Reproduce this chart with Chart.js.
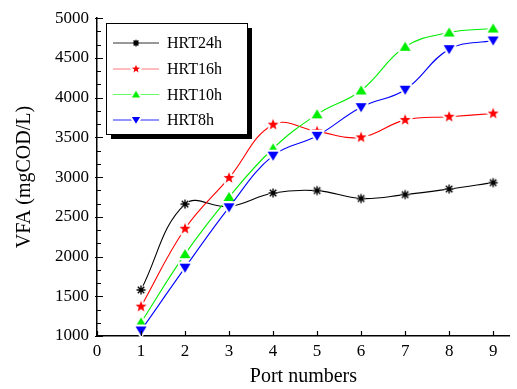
<!DOCTYPE html>
<html>
<head>
<meta charset="utf-8">
<script src="https://cdn.jsdelivr.net/npm/chart.js@4"></script>
<style>
  html, body { margin: 0; padding: 0; background: #fff; }
  canvas { display: block; }
</style>
</head>
<body>
<canvas id="vfaChart" width="517" height="389"></canvas>
<script>
// port numbers along the reactor
const ports = [1, 2, 3, 4, 5, 6, 7, 8, 9];
const seriesNames = ["HRT24h", "HRT16h", "HRT10h", "HRT8h"];
// VFA (mgCOD/L)
const hrt24 = [1580, 2660, 2630, 2800, 2830, 2730, 2780, 2850, 2930];
const hrt16 = [1370, 2350, 2990, 3660, 3575, 3500, 3720, 3760, 3800];
const hrt10 = [1170, 2030, 2750, 3360, 3790, 4090, 4640, 4820, 4870];
const hrt8 = [1070, 1860, 2620, 3270, 3520, 3880, 4100, 4610, 4720];
const yTicks = [1000, 1500, 2000, 2500, 3000, 3500, 4000, 4500, 5000];
const xTicks = [0, 1, 2, 3, 4, 5, 6, 7, 8, 9];

const FONT = "Liberation Serif";

// marker images with a white halo so lines stop short of the symbol
function marker(kind, color, k) {
  const s = 18;
  const c = document.createElement("canvas");
  c.width = s; c.height = s;
  const g = c.getContext("2d");
  g.translate(s / 2, s / 2);
  g.scale(k, k);
  const path = () => {
    g.beginPath();
    if (kind === "asterisk") {
      const r = 4.5, d = r * 0.72;
      g.moveTo(-r, 0); g.lineTo(r, 0);
      g.moveTo(0, -r); g.lineTo(0, r);
      g.moveTo(-d, -d); g.lineTo(d, d);
      g.moveTo(-d, d); g.lineTo(d, -d);
    } else if (kind === "star") {
      for (let i = 0; i < 10; i++) {
        const r = i % 2 ? 2.4 : 5.8;
        const a = -Math.PI / 2 + i * Math.PI / 5;
        g.lineTo(r * Math.cos(a), r * Math.sin(a));
      }
      g.closePath();
    } else if (kind === "up") {
      g.moveTo(0, -5); g.lineTo(5.5, 4); g.lineTo(-5.5, 4); g.closePath();
    } else {
      g.moveTo(0, 5); g.lineTo(5.5, -4); g.lineTo(-5.5, -4); g.closePath();
    }
  };
  g.lineJoin = "round";
  path();
  g.strokeStyle = "#fff"; g.lineWidth = 4 / k; g.stroke();
  if (kind === "asterisk") {
    path();
    g.strokeStyle = color; g.lineWidth = 1.4 / k; g.stroke();
  } else {
    path();
    g.fillStyle = "#fff"; g.fill();
    path();
    g.fillStyle = color; g.fill();
  }
  return c;
}

const colors = ["#000000", "#ff0000", "#00ee00", "#0000ff"];
const legendLine = ["#333333", "#ff7a7a", "#66ff66", "#2a2aff"];
const kinds = ["asterisk", "star", "up", "down"];
const markers = kinds.map((k, i) => marker(k, colors[i], 1));
const smallMarkers = kinds.map((k, i) => marker(k, colors[i], 0.75));
const values = [hrt24, hrt16, hrt10, hrt8];

const datasets = values.map((vals, i) => ({
  label: seriesNames[i],
  data: ports.map((p, j) => ({ x: p, y: vals[j] })),
  borderColor: colors[i],
  borderWidth: 1.1,
  tension: 0.4,
  pointStyle: markers[i],
  pointRadius: 6,
  clip: false,
  order: 4 - i,
}));

// inward tick marks like the original plot
const innerTicks = {
  id: "innerTicks",
  afterDraw(chart) {
    const { ctx, chartArea: a } = chart;
    const xs = chart.scales.x, ys = chart.scales.y;
    ctx.save();
    ctx.strokeStyle = "#000";
    ctx.lineWidth = 1.2;
    ctx.beginPath();
    xTicks.forEach(v => {
      const px = Math.round(xs.getPixelForValue(v)) + 0.5;
      ctx.moveTo(px, a.bottom); ctx.lineTo(px, a.bottom - 5);
    });
    yTicks.forEach((v, i) => {
      const py = Math.round(ys.getPixelForValue(v)) + 0.5;
      ctx.moveTo(a.left - 2, py); ctx.lineTo(a.left + 6, py);
      if (i < yTicks.length - 1) {
        for (let k = 1; k < 3; k++) {
          const my = Math.round(ys.getPixelForValue(v + (yTicks[i + 1] - v) * k / 3)) + 0.5;
          ctx.moveTo(a.left, my); ctx.lineTo(a.left + 4, my);
        }
      }
    });
    ctx.stroke();
    ctx.restore();
  },
};

// boxed legend with drop shadow
const boxLegend = {
  id: "boxLegend",
  afterDraw(chart) {
    const ctx = chart.ctx;
    const bx = 106, by = 23, bw = 141, bh = 111;
    ctx.save();
    ctx.fillStyle = "#000";
    ctx.fillRect(bx + 5, by + 5, bw, bh);
    ctx.fillStyle = "#fff";
    ctx.fillRect(bx, by, bw, bh);
    ctx.strokeStyle = "#000";
    ctx.lineWidth = 1;
    ctx.strokeRect(bx + 0.5, by + 0.5, bw, bh);
    const rows = [43, 69, 94.5, 120];
    ctx.font = "16px '" + FONT + "'";
    ctx.textBaseline = "middle";
    seriesNames.forEach((name, i) => {
      const y = rows[i];
      ctx.strokeStyle = legendLine[i];
      ctx.lineWidth = 1.2;
      ctx.beginPath();
      ctx.moveTo(113, y); ctx.lineTo(159, y);
      ctx.stroke();
      const m = smallMarkers[i];
      ctx.drawImage(m, 136 - m.width / 2, y - m.height / 2);
      ctx.fillStyle = "#000";
      ctx.fillText(name, 167, y + 1);
    });
    ctx.restore();
  },
};

function draw() {
  new Chart(document.getElementById("vfaChart"), {
    type: "line",
    data: { datasets },
    options: {
      responsive: false,
      animation: false,
      layout: { padding: { top: 18, right: 0, left: 0, bottom: 0 } },
      plugins: {
        legend: { display: false },
        tooltip: { enabled: false },
      },
      scales: {
        x: {
          type: "linear",
          min: 0,
          max: 9.38,
          afterBuildTicks: s => { s.ticks = xTicks.map(v => ({ value: v })); },
          afterFit: s => { s.height = 53; },
          grid: { drawOnChartArea: false, drawTicks: false },
          border: { color: "#000", width: 1.5 },
          ticks: { color: "#000", padding: 5, font: { family: FONT, size: 17 }, callback: v => String(v) },
          title: {
            display: true,
            text: "Port numbers",
            color: "#000",
            font: { family: FONT, size: 20 },
            padding: { top: 0, bottom: 0 },
          },
        },
        y: {
          min: 1000,
          max: 5000,
          afterBuildTicks: s => { s.ticks = yTicks.map(v => ({ value: v })); },
          afterFit: s => { s.width = 97; },
          grid: { drawOnChartArea: false, drawTicks: false },
          border: { color: "#000", width: 1.5 },
          ticks: { color: "#000", padding: 8, font: { family: FONT, size: 17 }, callback: v => String(v) },
          title: {
            display: true,
            text: "VFA (mgCOD/L)",
            color: "#000",
            font: { family: FONT, size: 20 },
            padding: { top: 13, bottom: 0 },
          },
        },
      },
    },
    plugins: [innerTicks, boxLegend],
  });
}

document.fonts.load("17px '" + FONT + "'").then(draw, draw);
</script>
</body>
</html>
